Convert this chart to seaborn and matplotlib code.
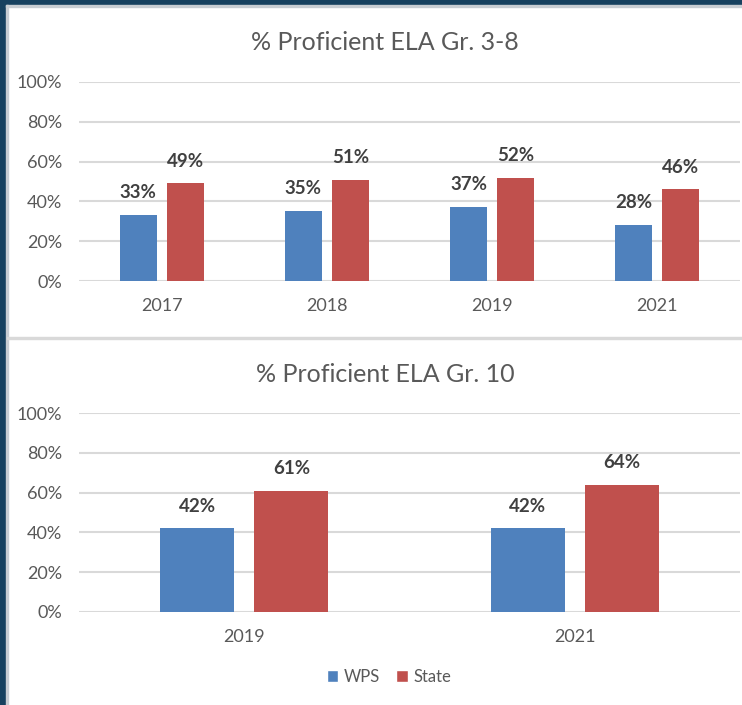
import matplotlib
matplotlib.use("Agg")
import matplotlib.pyplot as plt
import seaborn as sns
import pandas as pd
from matplotlib.patches import Rectangle, Patch

# Data
years_top = ["2017", "2018", "2019", "2021"]
wps_top = [0.33, 0.35, 0.37, 0.28]
state_top = [0.49, 0.51, 0.52, 0.46]

years_bot = ["2019", "2021"]
wps_bot = [0.42, 0.42]
state_bot = [0.61, 0.64]

series = ["WPS", "State"]
colors = ["#4f81bd", "#c0504d"]
yticks = [0, 0.2, 0.4, 0.6, 0.8, 1.0]
ytick_labels = ["0%", "20%", "40%", "60%", "80%", "100%"]

sns.set_theme(style="white")
plt.rcParams['font.family'] = ['Lato', 'DejaVu Sans']

W, H = 742, 705
fig = plt.figure(figsize=(W / 100, H / 100), dpi=100)
fig.patch.set_facecolor("white")

def fx(px):
    return px / W

def fy(py):
    return 1 - py / H

navy = "#17415f"
# borders
fig.patches.append(Rectangle((0, fy(5)), 1, 5 / H, transform=fig.transFigure, color=navy, zorder=0))
fig.patches.append(Rectangle((0, 0), fx(6), 1, transform=fig.transFigure, color=navy, zorder=0))
fig.patches.append(Rectangle((fx(6), 0), fx(1.5), fy(5), transform=fig.transFigure, color="#c8cdd2", zorder=0))
fig.patches.append(Rectangle((fx(6), fy(6.5)), 1, 1.5 / H, transform=fig.transFigure, color="#c8cdd2", zorder=0))
fig.patches.append(Rectangle((fx(7), fy(339)), 1, 2 / H, transform=fig.transFigure, color="#d9d9d9", zorder=0))

tick_color = "#595959"
label_color = "#404040"

def make_panel(top_px, bottom_px, years, wps, state, title, title_y):
    ax = fig.add_axes([fx(79), fy(bottom_px), fx(740) - fx(79), (bottom_px - top_px) / H])
    df = pd.DataFrame({
        "year": years * 2,
        "value": wps + state,
        "series": [series[0]] * len(years) + [series[1]] * len(years),
    })
    sns.barplot(data=df, x="year", y="value", hue="series", palette=colors,
                saturation=1, width=0.57, gap=0.214, ax=ax, legend=False,
                linewidth=0, zorder=3)
    ax.set_ylim(0, 1)
    ax.set_xlim(-0.5, len(years) - 0.5)
    ax.set_yticks(yticks)
    ax.set_yticklabels(ytick_labels)
    ax.set_xlabel("")
    ax.set_ylabel("")
    for s in ax.spines.values():
        s.set_visible(False)
    ax.grid(axis="y", color="#d9d9d9", linewidth=1.5, zorder=0)
    ax.set_axisbelow(True)
    ax.tick_params(axis="y", length=0, pad=12, labelsize=13, labelcolor=tick_color)
    ax.tick_params(axis="x", length=0, pad=12, labelsize=13, labelcolor=tick_color)
    for container in ax.containers:
        ax.bar_label(container, labels=[f"{v*100:.0f}%" for v in container.datavalues],
                     padding=10, fontsize=13.5, fontweight="bold", color=label_color)
    fig.text(fx(385), fy(title_y), title, ha="center", va="center",
             fontsize=18, color=tick_color)
    return ax

make_panel(82, 281, years_top, wps_top, state_top, "% Proficient ELA Gr. 3-8", 42)
make_panel(413, 612, years_bot, wps_bot, state_bot, "% Proficient ELA Gr. 10", 374)

handles = [Patch(facecolor=c, label=s) for c, s in zip(colors, series)]
fig.legend(handles=handles, loc="center", bbox_to_anchor=(fx(389), fy(677)), ncol=2,
           frameon=False, fontsize=12, labelcolor=tick_color, handlelength=0.7,
           handleheight=0.7, handletextpad=0.35, columnspacing=0.95)

fig.savefig("out.png", dpi=100)
